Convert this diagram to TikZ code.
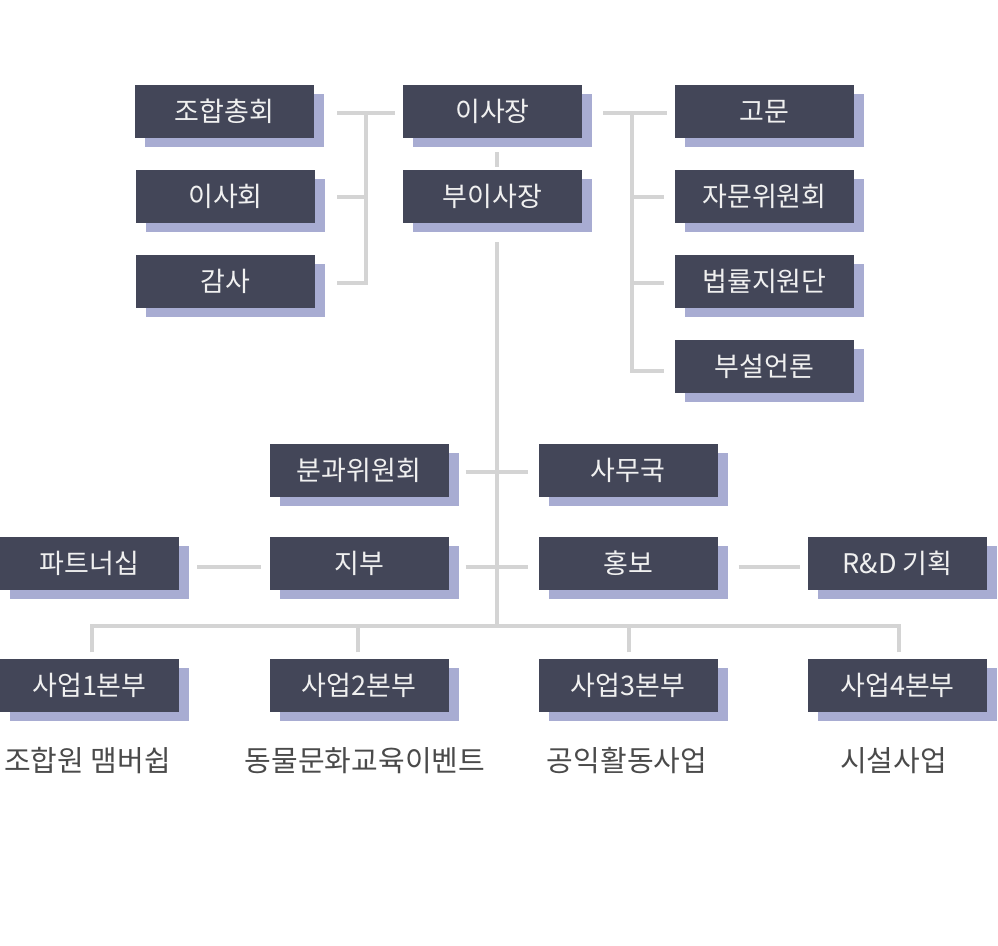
\documentclass[tikz,border=0pt]{standalone}
\usepackage{fontspec}
\newfontfamily\krfont{Noto Sans CJK KR}
\usetikzlibrary{positioning}
\usetikzlibrary{shadows}
\definecolor{unitfill}{HTML}{434658}
\definecolor{unitshade}{HTML}{A8ACD2}
\definecolor{linkgray}{HTML}{D4D4D4}
\definecolor{notegray}{HTML}{4A4A4A}
\tikzset{
  unit/.style={
    fill=unitfill, text=white!94!black,
    minimum width=179pt, minimum height=53pt, inner sep=0,
    font=\krfont\fontsize{27}{31}\selectfont,
    general shadow={fill=unitshade, shadow xshift=10pt, shadow yshift=-9pt}
  },
  note/.style={text=notegray, inner sep=0, font=\krfont\fontsize{29}{33}\selectfont},
  link/.style={draw=linkgray, line width=4pt}
}
\begin{document}
\begin{tikzpicture}[x=1pt,y=-1pt]
\useasboundingbox (0,0) rectangle (998,945);
\node[unit] (chonghoe) at (224.5,111.5) {조합총회};
\node[unit] (isahoe) at (225.5,196) {이사회};
\node[unit] (gamsa) at (225.5,281.5) {감사};
\node[unit] (isajang) at (492.5,111.5) {이사장};
\node[unit] (buisajang) at (492.5,196) {부이사장};
\node[unit] (gomun) at (764.5,111.5) {고문};
\node[unit] (jamun) at (764.5,196) {자문위원회};
\node[unit] (beopryul) at (764.5,281.5) {법률지원단};
\node[unit] (buseol) at (764.5,366.5) {부설언론};
\node[unit] (bungwa) at (359,470.5) {분과위원회};
\node[unit] (samuguk) at (628,470.5) {사무국};
\node[unit] (partner) at (89.5,563.5) {파트너십};
\node[unit] (jibu) at (359,563.5) {지부};
\node[unit] (hongbo) at (628,563.5) {홍보};
\node[unit] (rnd) at (897.5,563.5) {R\&D 기획};
\node[unit] (saeop1) at (89.5,685) {사업1본부};
\node[unit] (saeop2) at (359,685) {사업2본부};
\node[unit] (saeop3) at (628,685) {사업3본부};
\node[unit] (saeop4) at (897.5,685) {사업4본부};
\node[note] (note1) at (87.5,761) {조합원 맴버쉽};
\node[note] (note2) at (365,761) {동물문화교육이벤트};
\node[note] (note3) at (627,761) {공익활동사업};
\node[note] (note4) at (893.5,761) {시설사업};
\coordinate (bus) at (497,626);
\draw[link] ([xshift=23pt,yshift=-1.5pt]chonghoe.east) -| ([xshift=51pt,yshift=-1pt]gamsa.east) -- ([xshift=22pt,yshift=-1pt]gamsa.east);
\draw[link] ([xshift=22pt,yshift=-1pt]isahoe.east) -- ([xshift=51pt,yshift=-1pt]isahoe.east);
\draw[link] ([xshift=51pt,yshift=-1.5pt]chonghoe.east) -- ([xshift=-8pt,yshift=-1.5pt]isajang.west);
\draw[link] ([xshift=21pt,yshift=-1.5pt]isajang.east) -- ([xshift=-8pt,yshift=-1.5pt]gomun.west);
\draw[link] ([xshift=50pt,yshift=-1.5pt]isajang.east) |- ([xshift=-11pt,yshift=-4pt]buseol.west);
\draw[link] ([xshift=-43pt,yshift=-1pt]jamun.west) -- ([xshift=-11pt,yshift=-1pt]jamun.west);
\draw[link] ([xshift=-43pt,yshift=-1pt]beopryul.west) -- ([xshift=-11pt,yshift=-1pt]beopryul.west);
\draw[link] ([xshift=4.5pt,yshift=-14pt]isajang.south) -- ([xshift=4.5pt,yshift=2pt]buisajang.north);
\draw[link] ([xshift=4.5pt,yshift=-19.5pt]buisajang.south) -- (bus);
\draw[link] ([xshift=17pt,yshift=-1.5pt]bungwa.east) -- ([xshift=-10pt,yshift=-1.5pt]samuguk.west);
\draw[link] ([xshift=17pt,yshift=-3.5pt]jibu.east) -- ([xshift=-10pt,yshift=-3.5pt]hongbo.west);
\draw[link] ([xshift=18pt,yshift=-3.5pt]partner.east) -- ([xshift=-8pt,yshift=-3.5pt]jibu.west);
\draw[link] ([xshift=21pt,yshift=-3.5pt]hongbo.east) -- ([xshift=-8pt,yshift=-3.5pt]rnd.west);
\draw[link] ([xshift=2.5pt,yshift=6pt]saeop1.north) |- (bus);
\draw[link] ([xshift=-1pt,yshift=6pt]saeop2.north) |- (bus);
\draw[link] ([xshift=1pt,yshift=6pt]saeop3.north) |- (bus);
\draw[link] ([xshift=1.5pt,yshift=6pt]saeop4.north) |- (bus);
\end{tikzpicture}
\end{document}
